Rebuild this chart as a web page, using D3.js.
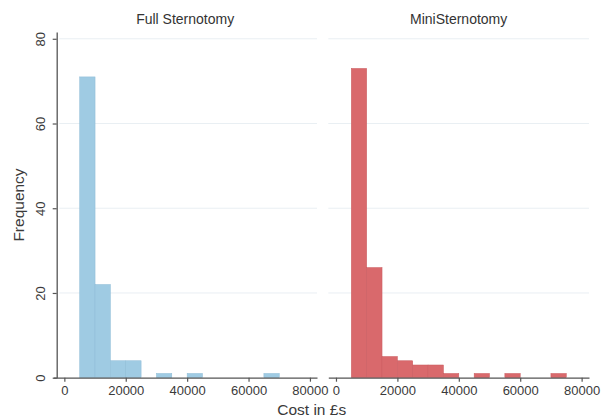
<!DOCTYPE html>
<html>
<head>
<meta charset="utf-8">
<script src="https://cdn.jsdelivr.net/npm/d3@7"></script>
<style>
  html, body { margin: 0; padding: 0; background: #fff; }
  svg { display: block; font-family: "Liberation Sans", Arial, sans-serif; }
</style>
</head>
<body>
<svg id="chart" width="601" height="419"></svg>
<script>
// Histogram of cost per patient, two panels, 5000-wide bins
const binStarts = [5000, 10000, 15000, 20000, 25000, 30000, 35000, 40000, 45000, 50000, 55000, 60000, 65000, 70000];
const fullCounts = [71, 22, 4, 4, 0, 1, 0, 1, 0, 0, 0, 0, 1, 0];
const miniCounts = [73, 26, 5, 4, 3, 3, 1, 0, 1, 0, 1, 0, 0, 1];
const binWidth = 5000;
const panelTitles = ["Full Sternotomy", "MiniSternotomy"];
const xTicks = [0, 20000, 40000, 60000, 80000];
const yTicks = [0, 20, 40, 60, 80];

const svg = d3.select("#chart");

const y = d3.scaleLinear().domain([0, 81.6]).range([377.7, 32]);

const panels = [
  { title: panelTitles[0], counts: fullCounts, color: "#9fcbe3", edge: "#8dbbd6",
    x: d3.scaleLinear().domain([-3600, 82300]).range([53.3, 317]), yAxis: true },
  { title: panelTitles[1], counts: miniCounts, color: "#d9696c", edge: "#c95b5e",
    x: d3.scaleLinear().domain([-2500, 82400]).range([328.3, 589]), yAxis: false }
];

panels.forEach(p => {
  const g = svg.append("g");
  const [x0, x1] = p.x.range();

  // horizontal grid
  g.selectAll("line.grid").data(yTicks.filter(t => t > 0)).join("line")
    .attr("class", "grid")
    .attr("x1", p.yAxis ? x0 + 6 : x0).attr("x2", x1)
    .attr("y1", d => y(d)).attr("y2", d => y(d))
    .attr("stroke", "#e9eff3").attr("stroke-width", 1);

  // bars
  const bins = binStarts.map((s, i) => ({ x0: s, x1: s + binWidth, n: p.counts[i] }))
    .filter(b => b.n > 0);
  g.selectAll("rect").data(bins).join("rect")
    .attr("x", d => p.x(d.x0))
    .attr("width", d => p.x(d.x1) - p.x(d.x0))
    .attr("y", d => y(d.n))
    .attr("height", d => y(0) - y(d.n))
    .attr("fill", p.color)
    .attr("stroke", p.edge).attr("stroke-width", 0.5);

  // x axis
  const xa = g.append("g").attr("transform", `translate(0,${y(0)})`)
    .call(d3.axisBottom(p.x).tickValues(xTicks).tickFormat(d3.format("d"))
      .tickSize(4).tickSizeOuter(0).tickPadding(4));
  xa.select(".domain").attr("stroke", "#555").attr("stroke-width", 1.3);
  xa.selectAll(".tick line").attr("stroke", "#555").attr("stroke-width", 1.2);
  xa.selectAll(".tick text").attr("fill", "#3a3a3a").style("font-size", "13px")
    .attr("font-family", "'Liberation Sans', Arial, sans-serif");

  // y axis (left panel only)
  if (p.yAxis) {
    const ya = g.append("g").attr("transform", "translate(56.7,0)")
      .call(d3.axisLeft(y).tickValues(yTicks).tickSize(4).tickSizeOuter(0).tickPadding(0));
    ya.select(".domain").attr("stroke", "#555").attr("stroke-width", 1.3);
    ya.selectAll(".tick line").attr("stroke", "#555").attr("stroke-width", 1.2);
    ya.selectAll(".tick text")
      .attr("fill", "#3a3a3a").style("font-size", "13px")
      .attr("font-family", "'Liberation Sans', Arial, sans-serif")
      .attr("x", null).attr("dy", null)
      .attr("text-anchor", "middle")
      .attr("transform", "translate(-12,0) rotate(-90)");
  }

  // panel title
  g.append("text")
    .attr("x", (x0 + x1) / 2).attr("y", 24)
    .attr("text-anchor", "middle")
    .attr("fill", "#333").style("font-size", "14px")
    .text(p.title);
});

// axis titles
svg.append("text")
  .attr("x", 311.7).attr("y", 415)
  .attr("text-anchor", "middle")
  .attr("fill", "#3a3a3a").style("font-size", "15.5px")
  .text("Cost in £s");

svg.append("text")
  .attr("transform", "translate(24,205) rotate(-90)")
  .attr("text-anchor", "middle")
  .attr("fill", "#3a3a3a").style("font-size", "15.5px")
  .text("Frequency");
</script>
</body>
</html>
